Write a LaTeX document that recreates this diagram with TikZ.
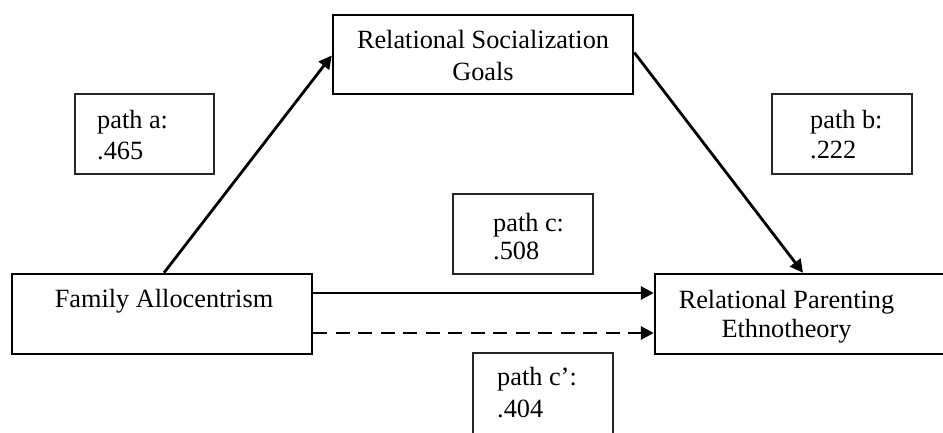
\documentclass[tikz,border=0pt]{standalone}
\usepackage{fontspec}
\setmainfont{Liberation Serif}
\usetikzlibrary{arrows.meta}
\tikzset{
  mainbox/.style={draw=black, line width=2.5pt, rectangle, inner sep=0pt},
  pathbox/.style={draw=black!85, line width=1.4pt, rectangle, inner sep=0pt},
  txt/.style={font=\fontsize{26.3}{31}\selectfont, inner sep=0pt, anchor=base},
  ltxt/.style={font=\fontsize{26.3}{31}\selectfont, inner sep=0pt, anchor=base west},
  arr/.style={line width=2.8pt, -{Triangle[length=13pt,width=13pt]}},
}
\begin{document}
\begin{tikzpicture}[x=1pt,y=-1pt]
\useasboundingbox (0,0) rectangle (943,432);
\begin{scope}
\clip (0,0) rectangle (943,432);
% main boxes
\node[mainbox, minimum width=300pt, minimum height=79pt] (goals) at (483,54.5) {};
\node[mainbox, minimum width=300pt, minimum height=80pt] (fam) at (162,314) {};
\node[mainbox, minimum width=292pt, minimum height=80pt] (rpe) at (801,314) {};
% path label boxes
\node[pathbox, minimum width=139pt, minimum height=80pt] (pa) at (144.5,134) {};
\node[pathbox, minimum width=140pt, minimum height=80pt] (pb) at (842,134) {};
\node[pathbox, minimum width=140pt, minimum height=80pt] (pc) at (523,234) {};
\node[pathbox, minimum width=140pt, minimum height=90pt] (pcp) at (543,398) {};
\end{scope}
% texts
\node[txt] (g1) at (483,48) {Relational Socialization};
\node[txt] (g2) at (483,80) {Goals};
\node[txt] (f1) at (164,307) {Family Allocentrism};
\node[txt] (r1) at (786.5,308) {Relational Parenting};
\node[txt] (r2) at (786.5,337) {Ethnotheory};
\node[ltxt] (a1) at (97,128) {path a:};
\node[ltxt] (a2) at (97,159) {.465};
\node[ltxt] (b1) at (810,128) {path b:};
\node[ltxt] (b2) at (810,158) {.222};
\node[ltxt] (c1) at (493,231) {path c:};
\node[ltxt] (c2) at (493,259) {.508};
\node[ltxt] (d1) at (497,385) {path c’:};
\node[ltxt] (d2) at (497,417) {.404};
% connectors
\draw[arr] ([xshift=2pt]fam.north) -- ([yshift=-1pt]goals.west);
\draw[arr] ([yshift=2pt]goals.east) -- ([xshift=2pt]rpe.north);
\draw[arr] ([yshift=21pt]fam.east) -- ([yshift=21pt]fam.east -| rpe.west);
\draw[arr, dash pattern=on 14pt off 8.5pt] ([yshift=-19pt]fam.east) -- ([yshift=-19pt]fam.east -| rpe.west);
\end{tikzpicture}
\end{document}
